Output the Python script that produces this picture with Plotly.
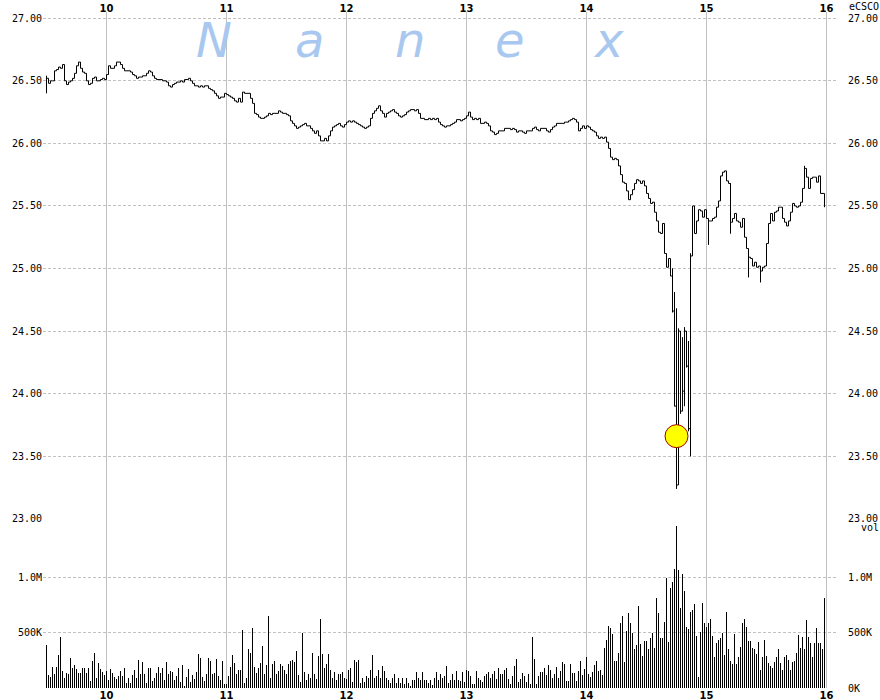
import plotly.graph_objects as go

# ---------------- data ----------------
symbol = "eCSCO"
watermark_letters = ["N", "a", "n", "e", "x"]

# per-minute closing prices 9:30 .. 15:59
price_close = [
    26.52, 26.48, 26.50, 26.50, 26.58, 26.59, 26.61, 26.60, 26.63, 26.50,
    26.47, 26.49, 26.50, 26.52, 26.56, 26.62, 26.65, 26.60, 26.57, 26.56,
    26.50, 26.47, 26.48, 26.52, 26.53, 26.50, 26.50, 26.51, 26.52, 26.51,
    26.55, 26.62, 26.60, 26.60, 26.62, 26.65, 26.65, 26.63, 26.60, 26.58,
    26.58, 26.58, 26.57, 26.55, 26.54, 26.52, 26.53, 26.53, 26.54, 26.54,
    26.56, 26.58, 26.57, 26.54, 26.52, 26.51, 26.51, 26.51, 26.50, 26.50,
    26.49, 26.46, 26.45, 26.47, 26.48, 26.49, 26.49, 26.50, 26.49, 26.51,
    26.51, 26.52,
    26.50, 26.48, 26.46, 26.46, 26.45, 26.46, 26.45, 26.46, 26.46, 26.44,
    26.43, 26.42, 26.40, 26.38, 26.36, 26.37, 26.37, 26.40, 26.39, 26.38,
    26.37, 26.36, 26.34, 26.33, 26.36, 26.33, 26.41, 26.40, 26.40, 26.40,
    26.36, 26.32, 26.24, 26.23, 26.21, 26.20, 26.20, 26.21, 26.22, 26.24,
    26.23, 26.24, 26.24, 26.24, 26.26, 26.25, 26.24, 26.24, 26.23, 26.22,
    26.18, 26.16, 26.14, 26.12, 26.13, 26.14, 26.15, 26.16, 26.14, 26.14,
    26.12, 26.10, 26.08, 26.10, 26.06, 26.02, 26.02, 26.04, 26.02, 26.06,
    26.10,
    26.13, 26.14, 26.15, 26.16, 26.14, 26.13, 26.15, 26.17, 26.18, 26.17,
    26.18, 26.17, 26.16, 26.15, 26.14, 26.13, 26.12, 26.13, 26.14, 26.20,
    26.24, 26.26, 26.28, 26.30, 26.26, 26.24, 26.21, 26.24, 26.25, 26.26,
    26.27, 26.25, 26.24, 26.22, 26.21, 26.22, 26.23, 26.25, 26.26, 26.27,
    26.27, 26.26, 26.27, 26.24, 26.20, 26.20, 26.19, 26.19, 26.20, 26.19,
    26.20, 26.19, 26.20, 26.17, 26.15, 26.14, 26.13, 26.14, 26.14, 26.15,
    26.16, 26.17, 26.19, 26.19, 26.18, 26.19, 26.20, 26.22, 26.25, 26.21,
    26.19, 26.20, 26.19, 26.20, 26.16, 26.16, 26.17, 26.16, 26.14, 26.10,
    26.09, 26.07, 26.08, 26.10, 26.10, 26.10, 26.12, 26.12, 26.12, 26.11,
    26.12, 26.11, 26.09, 26.10, 26.10, 26.09, 26.08, 26.10, 26.10, 26.10,
    26.12, 26.13, 26.11, 26.10, 26.12, 26.12, 26.12, 26.10, 26.09, 26.11,
    26.13, 26.14, 26.16, 26.16, 26.16, 26.16, 26.17, 26.17, 26.18, 26.19,
    26.20, 26.19, 26.17, 26.10, 26.12, 26.14, 26.12, 26.14, 26.13, 26.11,
    26.10, 26.09, 26.06, 26.04, 26.05, 26.04, 26.05, 26.01, 25.96, 25.89,
    25.87, 25.88, 25.87, 25.82, 25.75, 25.69, 25.68, 25.62, 25.55, 25.59,
    25.63, 25.68, 25.71, 25.70, 25.68, 25.70, 25.66, 25.60, 25.56, 25.52,
    25.53, 25.45, 25.38, 25.29, 25.28, 25.36, 25.12, 25.01, 25.08, 24.94,
    24.66, 23.90, 23.27, 24.50, 23.86, 24.02, 24.50, 24.22, 23.72, 25.10,
    25.50, 25.28, 25.38, 25.47, 25.46, 25.41, 25.47, 25.40, 25.38, 25.38,
    25.40, 25.41, 25.49, 25.54, 25.74, 25.77, 25.78, 25.70, 25.68, 25.37,
    25.40, 25.44, 25.38, 25.37, 25.33, 25.40, 25.25, 25.16, 25.09, 25.08,
    25.02, 25.05, 25.01, 25.02, 24.98, 25.01, 25.02, 25.20, 25.36, 25.44,
    25.38, 25.45, 25.46, 25.49, 25.49, 25.40, 25.37, 25.34, 25.38, 25.45,
    25.52, 25.50, 25.49, 25.50, 25.53, 25.64, 25.80, 25.73, 25.64, 25.72,
    25.73, 25.73, 25.69, 25.74, 25.60, 25.60, 25.49,
]

# minutes whose high-low range is wider than the close-to-close step
range_minute = [0, 313, 314, 315, 316, 317, 318, 319, 320, 321, 322, 331, 342, 351, 357, 379]
range_low = [26.40, 24.65, 23.90, 23.24, 23.30, 23.84, 24.00, 23.90, 24.21, 23.70, 23.50, 25.19, 25.28, 24.93, 24.89, 25.64]
range_high = [26.54, 25.00, 24.81, 24.68, 24.52, 24.32, 24.45, 24.53, 24.40, 24.42, 25.12, 25.40, 25.68, 25.12, 25.02, 25.82]

# per-minute volume, thousands of shares
volume_k = [
    387, 117, 102, 192, 126, 192, 297, 468, 153, 87,
    138, 126, 270, 180, 207, 171, 135, 135, 180, 180,
    135, 180, 63, 243, 315, 90, 225, 171, 144, 117,
    153, 72, 171, 135, 99, 81, 108, 153, 108, 180,
    45, 90, 45, 117, 162, 90, 252, 126, 234, 126,
    45, 180, 180, 63, 90, 135, 189, 135, 180, 72,
    234, 126, 153, 144, 72, 108, 180, 54, 207, 18,
    99, 171, 54, 117, 81, 144, 306, 270, 99, 63,
    126, 270, 243, 126, 135, 261, 108, 72, 243, 36,
    36, 108, 189, 297, 225, 126, 162, 162, 531, 45,
    90, 351, 315, 549, 189, 135, 180, 225, 378, 126,
    207, 657, 90, 216, 243, 126, 153, 216, 198, 162,
    126, 216, 243, 252, 234, 333, 117,
    57, 497, 146, 71, 125, 95, 321, 131, 86, 292,
    625, 310, 184, 214, 310, 161, 95, 143, 77, 131,
    125, 146, 95, 86, 161, 184, 54, 250, 232, 250,
    48, 95, 57, 113, 95, 161, 304, 95, 107, 167,
    95, 196, 152, 95, 77, 48, 95, 131, 48, 95,
    48, 95, 36, 89, 42, 15, 77, 77, 143, 89,
    77, 143, 71, 77, 42, 77, 27, 95, 143, 71,
    125, 95, 113, 196, 48, 71, 125, 77, 152, 77,
    65, 143, 54, 161, 152, 107, 36, 36, 152, 89,
    71, 54, 107, 125, 143, 95, 125, 152, 83, 184,
    125, 125, 161, 179, 83, 36, 113, 196, 268, 54,
    86, 134, 107, 54, 125, 36, 464, 268, 36, 107,
    143, 143, 179, 116, 205, 161, 89, 125, 187, 89,
    152, 232, 214, 62, 62, 214, 134, 134, 62, 152,
    241, 116, 170, 286, 125,
    97, 142, 205, 242, 151, 160, 115, 368, 432, 568,
    541, 495, 242, 242, 314, 595, 658, 233, 522, 686,
    595, 504, 350, 387, 749, 396, 287, 423, 423, 350,
    459, 504, 368, 821, 686, 459, 459, 604, 1003, 414,
    912, 966, 1084, 1474, 1075, 731, 1039, 885, 550, 532,
    695, 713, 767, 477, 97, 513, 776, 595, 559, 595,
    631, 477, 278, 405, 432, 450, 504, 296, 695, 359,
    242, 214, 495, 214, 278, 377, 595, 631, 559, 423,
    423, 368, 359, 305, 414, 160, 278, 432, 287, 223,
    196, 178, 233, 278, 359, 223, 160, 278, 296, 251,
    160, 233, 242, 314, 486, 368, 468, 350, 622, 468,
    405, 278, 405, 541, 405, 405, 350, 821,
]

hour_ticks = [10, 11, 12, 13, 14, 15, 16]
hour_labels = ["10", "11", "12", "13", "14", "15", "16"]
price_ticks = [23.0, 23.5, 24.0, 24.5, 25.0, 25.5, 26.0, 26.5, 27.0]
vol_ticks = [0, 500, 1000]
vol_labels = ["0K", "500K", "1.0M"]

highlight_minute = 315
highlight_price = 23.66

# ---------------- build ----------------
OPEN = 9.5
n = len(price_close)
t = [OPEN + m / 60 for m in range(n)]

lo = list(price_close)
hi = list(price_close)
for m, l, h in zip(range_minute, range_low, range_high):
    lo[m] = min(lo[m], l)
    hi[m] = max(hi[m], h)

px, py = [], []
for i in range(n):
    px += [t[i], t[i], t[i]]
    py += [lo[i], hi[i], price_close[i]]
    if i < n - 1:
        px.append(t[i + 1])
        py.append(price_close[i])

MONO = "DejaVu Sans Mono"
GRID = "#c0c0c0"
HOUR_FONT = dict(family="DejaVu Sans", size=10, color="black", weight="bold")
TICK_FONT = dict(family=MONO, size=10, color="black")

fig = go.Figure()
fig.add_trace(go.Scatter(x=px, y=py, mode="lines", xaxis="x", yaxis="y",
                         line=dict(color="black", width=1), hoverinfo="skip"))
fig.add_trace(go.Scatter(x=[OPEN + highlight_minute / 60], y=[highlight_price],
                         mode="markers", xaxis="x", yaxis="y",
                         marker=dict(size=23, color="#ffff00",
                                     line=dict(color="#a00000", width=1))))
fig.add_trace(go.Bar(x=t, y=volume_k, xaxis="x", yaxis="y2", width=1 / 120,
                     marker=dict(color="black", line=dict(width=0))))
# invisible traces for mirrored axes
fig.add_trace(go.Scatter(x=[t[0]], y=[price_close[0]], xaxis="x2", yaxis="y3",
                         mode="markers", marker=dict(opacity=0), hoverinfo="skip"))
fig.add_trace(go.Scatter(x=[t[0]], y=[volume_k[0]], xaxis="x", yaxis="y4",
                         mode="markers", marker=dict(opacity=0), hoverinfo="skip"))

# 120 px per hour, 9:30 on a pixel centre
x0 = OPEN - 3.5 / 120
xr = [x0, x0 + 794 / 120]
common = dict(automargin=False, zeroline=False, showline=False, ticks="")
fig.update_layout(
    template="none",
    width=880, height=700,
    margin=dict(l=43, r=43, t=12, b=12, pad=0),
    plot_bgcolor="white", paper_bgcolor="white",
    showlegend=False, bargap=0,
    xaxis=dict(range=xr, domain=[0, 1], anchor="y2", side="bottom",
               tickvals=hour_ticks, ticktext=hour_labels, tickfont=HOUR_FONT,
               showgrid=True, gridcolor=GRID, gridwidth=1,
               ticklabelstandoff=0, **common),
    xaxis2=dict(range=xr, overlaying="x", matches="x", anchor="y", side="top",
                tickvals=hour_ticks, ticktext=hour_labels, tickfont=HOUR_FONT,
                showgrid=False, ticklabelstandoff=-3, **common),
    yaxis=dict(domain=[0.25, 1], range=[22.998, 27.05], anchor="x", side="left",
               tickvals=price_ticks, tickformat=".2f", tickfont=TICK_FONT,
               showgrid=True, gridcolor=GRID, griddash="3px,2px", gridwidth=1,
               ticklabelstandoff=0, **common),
    yaxis3=dict(overlaying="y", matches="y", anchor="x2", side="right",
                tickvals=price_ticks, tickformat=".2f", tickfont=TICK_FONT,
                showgrid=False, ticklabelstandoff=10, **common),
    yaxis2=dict(domain=[0, 0.25], range=[0, 1536], anchor="x", side="left",
                tickvals=vol_ticks[1:], ticktext=vol_labels[1:], tickfont=TICK_FONT,
                showgrid=True, gridcolor=GRID, griddash="3px,2px", gridwidth=1,
                ticklabelstandoff=0, **common),
    yaxis4=dict(overlaying="y2", matches="y2", anchor="x", side="right",
                tickvals=vol_ticks, ticktext=vol_labels, tickfont=TICK_FONT,
                showgrid=False, ticklabelstandoff=10, **common),
)

# watermark letters
wm_x = [0.215, 0.336, 0.462, 0.588, 0.712]
for letter, xpos in zip(watermark_letters, wm_x):
    fig.add_annotation(text=letter, xref="paper", yref="paper", x=xpos, y=0.958,
                       xanchor="center", yanchor="middle", showarrow=False,
                       font=dict(family="DejaVu Sans", size=48, color="#a8c8f0",
                                 style="italic"))

fig.add_annotation(text=symbol, xref="paper", yref="paper", x=1.0, y=1.0,
                   xanchor="left", yanchor="middle", xshift=10, yshift=6,
                   showarrow=False, font=TICK_FONT)
fig.add_annotation(text="vol", xref="paper", yref="paper", x=1.0, y=0.25,
                   xanchor="left", yanchor="middle", xshift=22, yshift=-8,
                   showarrow=False, font=TICK_FONT)

# page body without default margin so the 880x700 figure fills the window
fig.write_html("out.html", config={"displayModeBar": False},
               post_script="document.body.style.margin='0';")
